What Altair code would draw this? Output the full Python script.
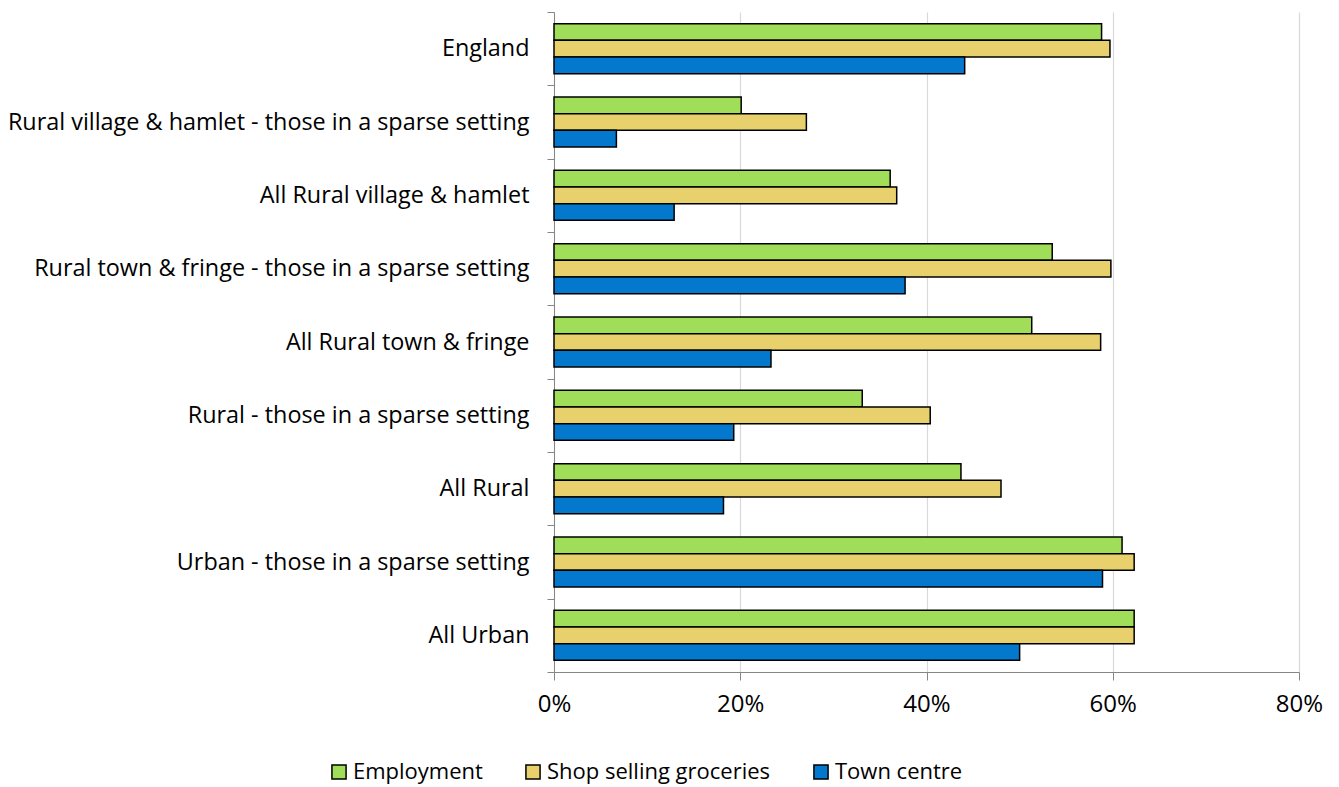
import altair as alt
import pandas as pd

categories = [
    "England",
    "Rural village & hamlet - those in a sparse setting",
    "All Rural village & hamlet",
    "Rural town & fringe - those in a sparse setting",
    "All Rural town & fringe",
    "Rural - those in a sparse setting",
    "All Rural",
    "Urban - those in a sparse setting",
    "All Urban",
]
series = ["Employment", "Shop selling groceries", "Town centre"]
employment = [58.8, 20.1, 36.1, 53.5, 51.3, 33.1, 43.7, 61.0, 62.3]
groceries = [59.7, 27.1, 36.8, 59.8, 58.7, 40.4, 48.0, 62.3, 62.3]
town_centre = [44.1, 6.7, 12.9, 37.7, 23.3, 19.3, 18.2, 58.9, 50.0]
x_ticks = [0, 20, 40, 60, 80]
colors = ["#A0DE5A", "#E8D06C", "#0478CC"]

rows = []
for s, vals in zip(series, [employment, groceries, town_centre]):
    for c, v in zip(categories, vals):
        rows.append({"category": c, "series": s, "value": v})
df = pd.DataFrame(rows)

FONT = "Open Sans"

chart = (
    alt.Chart(df)
    .mark_bar(stroke="black", strokeWidth=1.5)
    .encode(
        y=alt.Y(
            "category:N",
            sort=categories,
            scale=alt.Scale(paddingInner=0, paddingOuter=0),
            axis=alt.Axis(
                title=None,
                tickBand="extent",
                tickSize=7,
                labelPadding=18,
                labelFontSize=23.4,
                labelFont=FONT,
                labelColor="#000000",
                labelLimit=600,
                domainColor="#868686",
                tickColor="#868686",
                grid=False,
            ),
        ),
        yOffset=alt.YOffset(
            "series:N",
            sort=series,
            scale=alt.Scale(paddingInner=0, paddingOuter=0.7),
        ),
        x=alt.X(
            "value:Q",
            scale=alt.Scale(domain=[0, 80], nice=False),
            axis=alt.Axis(
                title=None,
                values=x_ticks,
                labelExpr="datum.value + '%'",
                tickSize=8,
                labelPadding=12,
                labelFontSize=24,
                labelFont=FONT,
                labelColor="#000000",
                labelFlush=False,
                domainColor="#868686",
                tickColor="#868686",
                grid=True,
                gridColor="#D9D9D9",
                gridWidth=1.2,
            ),
        ),
        color=alt.Color(
            "series:N",
            sort=series,
            scale=alt.Scale(domain=series, range=colors),
            legend=alt.Legend(
                title=None,
                orient="none",
                legendX=-226,
                legendY=749,
                direction="horizontal",
                symbolType="square",
                symbolSize=200,
                symbolStrokeColor="black",
                symbolStrokeWidth=1.5,
                symbolOpacity=1,
                labelFontSize=22,
                labelFont=FONT,
                labelColor="#000000",
                labelLimit=400,
                labelOffset=3,
                columnPadding=39,
            ),
        ),
    )
    .properties(
        width=745,
        height=660,
        padding={"top": 4, "left": 546, "right": 28, "bottom": 115},
        autosize=alt.AutoSizeParams(type="none"),
    )
    .configure_view(stroke=None)
)

chart.save("out.html", embed_options={"renderer": "svg", "actions": False})
